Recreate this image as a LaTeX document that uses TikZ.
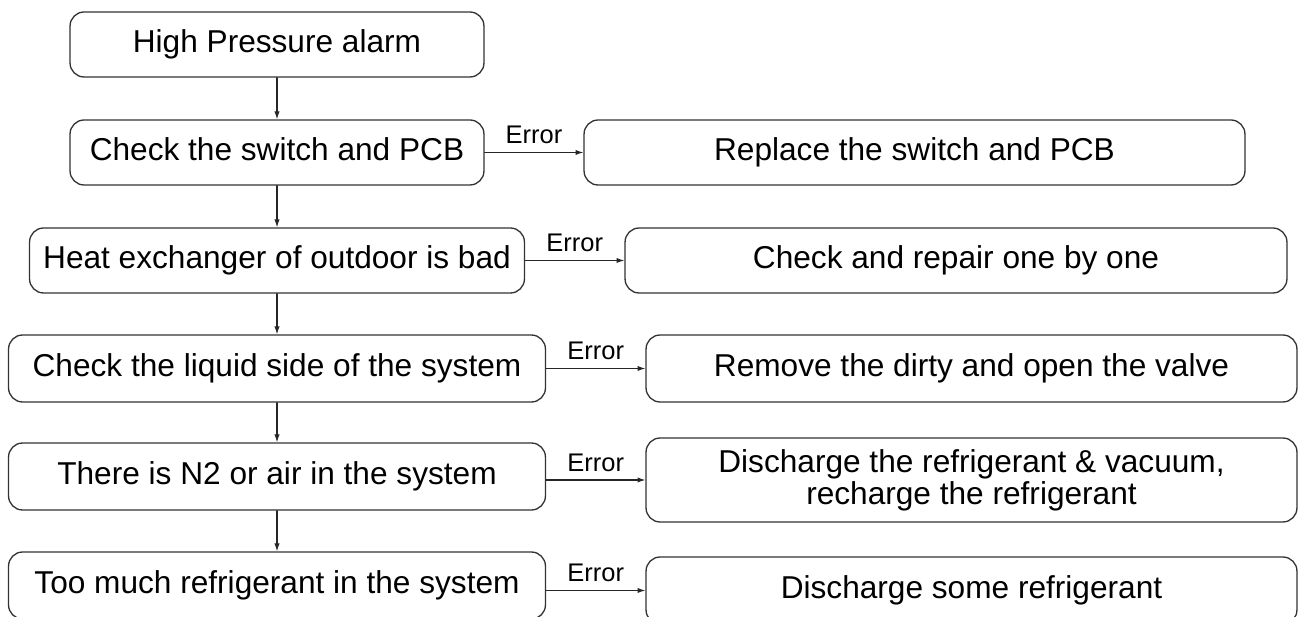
\documentclass[tikz,border=0pt]{standalone}
\usepackage{fontspec}
\setmainfont{Liberation Sans}
\usetikzlibrary{arrows.meta}

\begin{document}
\begin{tikzpicture}[x=0.02cm,y=-0.02cm,>={Latex[length=4.5pt,width=3pt]}, line join=round, line cap=round,
		box/.style={draw=black!80, line width=0.75pt, rounded corners=8pt, minimum height=1.3cm, inner sep=0pt, text height=12.5pt, text depth=3pt, align=center, font=\fontsize{18}{18.4}\selectfont},
		err/.style={midway, above, inner sep=4.5pt, text=black, font=\fontsize{14.5}{16}\selectfont}]
		\useasboundingbox (0,0) rectangle (1298,617);
		\clip (0,0) rectangle (1298,617);
		% checks
		\node[box, minimum width=8.28cm] (hp) at (277,44.5) {High Pressure alarm};
		\node[box, minimum width=8.28cm] (sw) at (277,152.5) {Check the switch and PCB};
		\node[box, minimum width=9.9cm] (hx) at (277,260.5) {Heat exchanger of outdoor is bad};
		\node[box, minimum width=10.74cm, minimum height=1.34cm] (liq) at (277,368.5) {Check the liquid side of the system};
		\node[box, minimum width=10.74cm, minimum height=1.34cm] (air) at (277,476.5) {There is N2 or air in the system};
		\node[box, minimum width=10.74cm, minimum height=1.34cm] (much) at (277,585.5) {Too much refrigerant in the system};
		% remedies
		\node[box, minimum width=13.22cm] (rep) at (914.5,152.5) {Replace the switch and PCB};
		\node[box, minimum width=13.24cm] (rpr) at (956,260.5) {Check and repair one by one};
		\node[box, minimum width=13.02cm, minimum height=1.34cm] (dirty) at (971.5,368.5) {Remove the dirty and open the valve};
		\node[box, minimum width=13.02cm, minimum height=1.68cm, text height=30.9pt] (vac) at (971.5,480) {Discharge the refrigerant \& vacuum,\\recharge the refrigerant};
		\node[box, minimum width=13.02cm, minimum height=1.34cm] (some) at (971.5,590.5) {Discharge some refrigerant};
		% connectors
		\foreach \a/\b in {hp/sw,sw/hx,hx/liq,liq/air,air/much}
		\draw[->, black!85, line width=0.6pt] (\a) -- (\b);
		\foreach \a/\b in {sw/rep,hx/rpr,liq/dirty,air/vac,much/some}
		\draw[->, black!85, line width=0.6pt] (\a.east |- \b) -- (\b) node[err] {Error};
\end{tikzpicture}
\end{document}
